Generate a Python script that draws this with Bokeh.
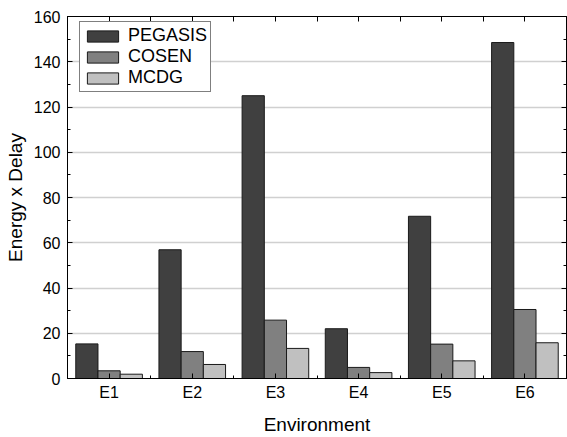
from bokeh.plotting import figure
from bokeh.models import (Range1d, LinearAxis, FixedTicker, Legend,
                          LegendItem, Grid, ColumnDataSource)
from bokeh.transform import dodge
from bokeh.embed import file_html
from bokeh.resources import INLINE

# ---- data ----
categories = ["E1", "E2", "E3", "E4", "E5", "E6"]
pegasis = [15.3, 56.9, 125.0, 22.0, 71.7, 148.5]
cosen = [3.4, 11.9, 25.8, 4.9, 15.2, 30.5]
mcdg = [1.9, 6.2, 13.3, 2.6, 7.8, 15.8]
series_names = ["PEGASIS", "COSEN", "MCDG"]
series_colors = ["#404040", "#808080", "#c0c0c0"]
y_ticks = [0, 20, 40, 60, 80, 100, 120, 140, 160]
y_minor = [10, 30, 50, 70, 90, 110, 130, 150]

FONT = "Liberation Sans"

centers = [i + 0.5 for i in range(len(categories))]
source = ColumnDataSource(dict(pos=centers, env=categories, PEGASIS=pegasis, COSEN=cosen, MCDG=mcdg))

p = figure(x_range=Range1d(0, len(categories)),
           y_range=Range1d(0, 160),
           width=567, height=437, output_backend="svg", toolbar_location=None,
           x_axis_location=None, y_axis_location=None,
           min_border_left=67, min_border_right=1, min_border_top=16, min_border_bottom=59)
p.outline_line_color = "black"
p.outline_line_width = 1
p.background_fill_color = "white"
p.border_fill_color = "white"
p.center = []

bw = 0.267
offsets = [-bw, 0.0, bw]
renderers = []
for name, col, off in zip(series_names, series_colors, offsets):
    r = p.vbar(x=dodge("pos", off), top=name, width=bw, bottom=0,
               source=source, fill_color=col, line_color="#1a1a1a", line_width=1)
    renderers.append(r)


def style(ax):
    ax.axis_line_color = "black"
    ax.axis_line_width = 1
    ax.major_tick_line_color = "black"
    ax.minor_tick_line_color = "black"
    ax.major_tick_in = 5
    ax.major_tick_out = 0
    ax.minor_tick_in = 3
    ax.minor_tick_out = 0
    ax.major_label_text_font = FONT
    ax.major_label_text_font_size = "16px"
    ax.major_label_text_color = "black"
    ax.axis_label_text_font = FONT
    ax.axis_label_text_font_size = "19px"
    ax.axis_label_text_font_style = "normal"
    ax.axis_label_text_color = "black"


def hide_labels(ax, ticks):
    ax.major_label_overrides = {t: "" for t in ticks}
    ax.major_label_standoff = 0
    ax.axis_label_standoff = 0


# bottom axis
bottom = LinearAxis(ticker=FixedTicker(ticks=centers, minor_ticks=list(range(len(categories) + 1))),
                    major_label_overrides={c: lab for c, lab in zip(centers, categories)},
                    axis_label="Environment")
style(bottom)
bottom.major_label_standoff = 5
bottom.axis_label_standoff = 10
p.add_layout(bottom, "below")

# top axis
top_ticks = [i * 0.5 for i in range(2 * len(categories) + 1)]
top = LinearAxis(ticker=FixedTicker(ticks=top_ticks))
style(top)
hide_labels(top, top_ticks)
p.add_layout(top, "above")

# left axis
left = LinearAxis(ticker=FixedTicker(ticks=y_ticks, minor_ticks=y_minor), axis_label="Energy x Delay")
style(left)
left.major_label_standoff = 7
left.axis_label_standoff = 5
p.add_layout(left, "left")

# right axis
right = LinearAxis(ticker=FixedTicker(ticks=y_ticks, minor_ticks=y_minor))
style(right)
hide_labels(right, y_ticks)
p.add_layout(right, "right")

grid = Grid(dimension=1, ticker=FixedTicker(ticks=y_ticks[1:-1]),
            grid_line_color="#d0d0d0", grid_line_width=1.5)
p.add_layout(grid)

legend = Legend(items=[LegendItem(label=n, renderers=[r]) for n, r in zip(series_names, renderers)],
                location=(12, 286), margin=0, padding=3, spacing=0,
                glyph_width=39, glyph_height=14, label_height=20, label_standoff=6,
                label_text_font=FONT, label_text_font_size="18px", label_text_color="black",
                border_line_color="black", border_line_width=1, background_fill_color="white",
                background_fill_alpha=1)
p.add_layout(legend)

open("out.html", "w").write(file_html(p, INLINE))
